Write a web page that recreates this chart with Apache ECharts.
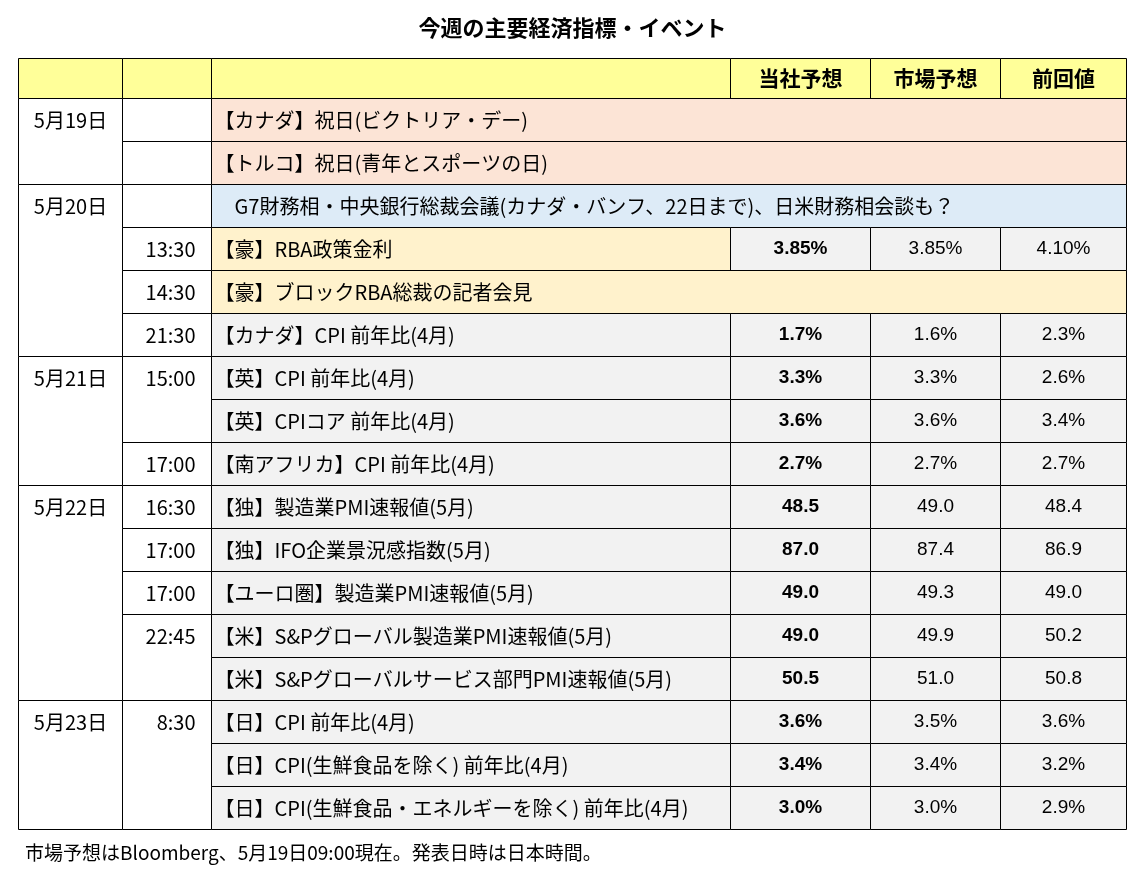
<!DOCTYPE html>
<html><head><meta charset="utf-8">
<script src="https://cdn.jsdelivr.net/npm/echarts@6/dist/echarts.min.js"></script>
<style>html,body{margin:0;padding:0;background:#fff}#c{width:1145px;height:872px}</style>
</head><body><div id="c"></div>
<script>
const title = '今週の主要経済指標・イベント';
const headers = ['', '', '', '当社予想', '市場予想', '前回値'];
const footnote = '市場予想はBloomberg、5月19日09:00現在。発表日時は日本時間。';
const dates = [['5月19日',1,2],['5月20日',3,6],['5月21日',7,9],['5月22日',10,14],['5月23日',15,17]];
const times = [['',1,1],['',2,2],['',3,3],['13:30',4,4],['14:30',5,5],['21:30',6,6],['15:00',7,8],['17:00',9,9],
  ['16:30',10,10],['17:00',11,11],['17:00',12,12],['22:45',13,14],['8:30',15,17]];
const events = ['【カナダ】祝日(ビクトリア・デー)','【トルコ】祝日(青年とスポーツの日)',
  '　G7財務相・中央銀行総裁会議(カナダ・バンフ、22日まで)、日米財務相会談も？',
  '【豪】RBA政策金利','【豪】ブロックRBA総裁の記者会見','【カナダ】CPI 前年比(4月)',
  '【英】CPI 前年比(4月)','【英】CPIコア 前年比(4月)','【南アフリカ】CPI 前年比(4月)',
  '【独】製造業PMI速報値(5月)','【独】IFO企業景況感指数(5月)','【ユーロ圏】製造業PMI速報値(5月)',
  '【米】S&Pグローバル製造業PMI速報値(5月)','【米】S&Pグローバルサービス部門PMI速報値(5月)',
  '【日】CPI 前年比(4月)','【日】CPI(生鮮食品を除く) 前年比(4月)','【日】CPI(生鮮食品・エネルギーを除く) 前年比(4月)'];
const rowTypes = ['h','h','b','r','o','n','n','n','n','n','n','n','n','n','n','n','n'];
const ourForecast = [null,null,null,'3.85%',null,'1.7%','3.3%','3.6%','2.7%','48.5','87.0','49.0','49.0','50.5','3.6%','3.4%','3.0%'];
const marketForecast = [null,null,null,'3.85%',null,'1.6%','3.3%','3.6%','2.7%','49.0','87.4','49.3','49.9','51.0','3.5%','3.4%','3.0%'];
const previous = [null,null,null,'4.10%',null,'2.3%','2.6%','3.4%','2.7%','48.4','86.9','49.0','50.2','50.8','3.6%','3.2%','2.9%'];

const colEdges = [0,104,193,712,852,982,1108];
const HEADER_H = 40, ROW_H = 43;
const rowTop = r => r === 0 ? 0 : HEADER_H + ROW_H*(r-1);
const rowBot = r => HEADER_H + ROW_H*r;
const fills = {y:'#FFFF99', w:'#FFFFFF', h:'#FCE4D6', b:'#DDEBF7', o:'#FFF2CC', g:'#F2F2F2'};

const cells = [];
const meta = [];
function add(c0,c1,r0,r1,fill,text,align,bold,size){
  cells.push([colEdges[c0],colEdges[c1],rowTop(r0),rowBot(r1)]);
  meta.push({fill,text,align,bold,size});
}
headers.forEach((h,i)=>add(i,i+1,0,0,'y',h,'center',true,21));
dates.forEach(d=>add(0,1,d[1],d[2],'w',d[0],'date',false,20));
times.forEach(t=>add(1,2,t[1],t[2],'w',t[0],'right',false,20));
events.forEach((e,i)=>{
  const r=i+1, t=rowTypes[i];
  if(t==='h'||t==='b'||t==='o'){ add(2,6,r,r,t,e,'left',false,20); return; }
  add(2,3,r,r,t==='r'?'o':'g',e,'left',false,20);
  add(3,4,r,r,'g',ourForecast[i],'center',true,19);
  add(4,5,r,r,'g',marketForecast[i],'center',false,19);
  add(5,6,r,r,'g',previous[i],'center',false,19);
});

const FONT = '"Noto Sans CJK JP",sans-serif';
const chart = echarts.init(document.getElementById('c'));
chart.setOption({
  animation:false,
  title:[{text:title,left:'center',top:12,textStyle:{fontSize:22,fontWeight:'bold',color:'#000',fontFamily:FONT}},
         {text:footnote,left:20,top:838,textStyle:{fontSize:19,fontWeight:'normal',color:'#000',fontFamily:FONT}}],
  grid:{left:18,top:58,width:1108,height:771},
  xAxis:{type:'value',min:0,max:1108,show:false},
  yAxis:{type:'value',min:0,max:771,inverse:true,show:false},
  series:[{type:'custom',data:cells,
    renderItem:(p,api)=>{
      const m=meta[p.dataIndex];
      const a=api.coord([api.value(0),api.value(2)]), b=api.coord([api.value(1),api.value(3)]);
      const x=Math.round(a[0])+0.5, y=Math.round(a[1])+0.5, w=Math.round(b[0]-a[0]), h=Math.round(b[1]-a[1]);
      const children=[{type:'rect',shape:{x,y,width:w,height:h},style:{fill:fills[m.fill],stroke:'#000',lineWidth:1}}];
      if(m.text){
        let tx, ty=(h>ROW_H+5)? y+ROW_H/2 : y+h/2, align='center';
        if(m.align==='left'){tx=x+3;align='left';}
        else if(m.align==='right'){tx=x+w-16;align='right';}
        else tx=x+w/2;
        const isNum=/^[0-9.%]+$/.test(m.text);
        children.push({type:'text',style:{x:tx,y:ty,text:m.text,align,verticalAlign:'middle',
          fill:'#000',fontSize:m.size,fontWeight:m.bold?'bold':'normal',
          fontFamily:isNum?'"Liberation Sans Narrow","Liberation Sans",sans-serif':FONT}});
      }
      return {type:'group',children};
    }}]
});
</script></body></html>
